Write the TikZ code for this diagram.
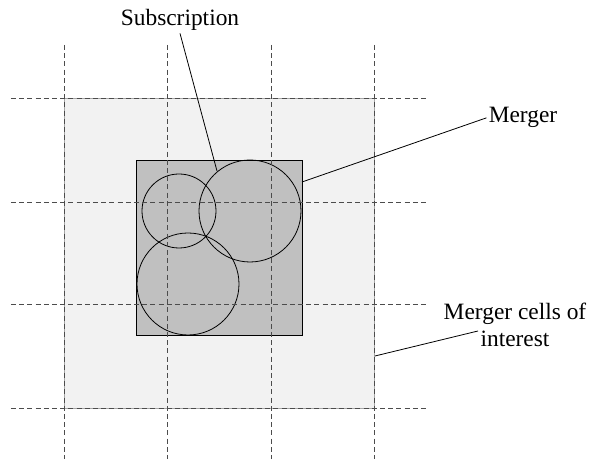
\documentclass[tikz,border=0pt]{standalone}
\usepackage{fontspec}
\setmainfont{Liberation Serif}
\usepackage{tikz}

\definecolor{cellgray}{HTML}{F2F2F2}
\definecolor{mergergray}{HTML}{C0C0C0}

\begin{document}
\begin{tikzpicture}[x=0.5pt, y=-0.5pt, font=\fontsize{11.7}{13.7}\selectfont,
    gridline/.style={dash pattern=on 2.5pt off 1.6pt, black!70, thin},
    tag/.style={inner sep=1pt}]
        \useasboundingbox (0,0) rectangle (591,459);

        % cells of interest and merger area
        \draw[thin, black!35, fill=cellgray] (64,98) rectangle (374,408);
        \draw[thin, fill=mergergray] (136,160) rectangle (302,335);

        % subscriptions
        \draw[thin] (179,211) circle (18.5pt);
        \draw[thin] (250,211) circle (25.5pt);
        \draw[thin] (188,284) circle (25.5pt);

        % grid
        \foreach \x in {64,167,271,374}
            \draw[gridline] (\x,45) -- (\x,459);
        \foreach \y in {98,202,304,408}
            \draw[gridline] (11,\y) -- (426,\y);

        % labels
        \node[tag, anchor=base] (sub) at (180,26) {Subscription};
        \node[tag, anchor=base] (merger) at (523,123) {Merger};
        \node[tag, align=center] (cells) at (515,325) {Merger cells of\\interest};

        \coordinate (subend) at (217,171);
        \coordinate (mergerend) at (302,182);
        \coordinate (cellsend) at (375,356);
        \coordinate (cellstip) at (478,331);

        \draw (sub.south) -- (subend);
        \draw (merger.west) -- (mergerend);
        \draw (cellstip) -- (cellsend);
\end{tikzpicture}
\end{document}
